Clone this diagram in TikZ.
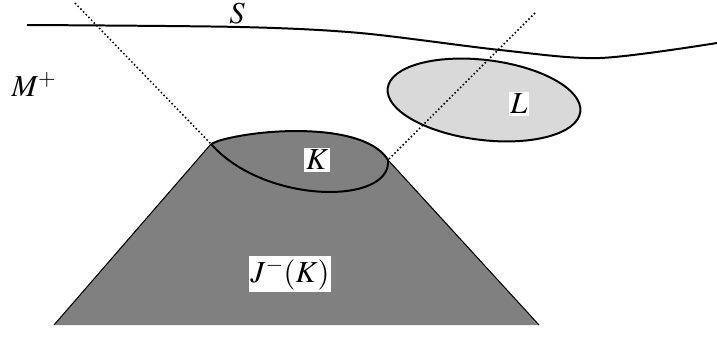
\documentclass[tikz,border=0pt]{standalone}
\usepackage{mathptmx}
\usetikzlibrary{positioning}

\begin{document}
\begin{tikzpicture}[
    x=0.03cm, y=-0.03cm,
    font=\fontsize{26}{30}\selectfont,
    lbl/.style={fill=white, inner sep=1.5pt},
    edge/.style={line width=1.7pt},
    ray/.style={dotted, line width=1.3pt}
]
\useasboundingbox (0,0) rectangle (717,338);
\coordinate (kl) at (211,144);
\coordinate (kr) at (388,160);
\coordinate (bl) at (54,325);
\coordinate (br) at (539,325);
\coordinate (tl) at (75,3);
\coordinate (tr) at (535,13);
% past of K
\fill[gray] (kl) -- (bl) -- (br) -- (kr) -- cycle;
\draw[line width=0.9pt] (kl) -- (bl);
\draw[line width=0.9pt] (kr) -- (br);
\filldraw[fill=gray, edge] (kl) -- (218,141) .. controls (260,128) and (365,122) .. (kr)
    .. controls (392,205) and (265,205) .. (kl);
% surface S
\draw[edge] plot[smooth] coordinates {(27,25) (240,27) (360,33) (500,50) (600,58) (717,43)};
% set L
\filldraw[fill=gray!30, edge] (484,100) ellipse [x radius=97, y radius=40, rotate=-7];
\draw[ray] (tl) -- (kl);
\draw[ray] (tr) -- (kr);
\node[inner sep=0pt] (S) at (237,14) {$S$};
\node (Mplus) at (34,84) {$M^{+}$};
\node[lbl] (K) at (317,160) {$K$};
\node[lbl] (L) at (519,104) {$L$};
\node[lbl] (JK) at (290,274) {$J^{-}(K)$};
\end{tikzpicture}
\end{document}
